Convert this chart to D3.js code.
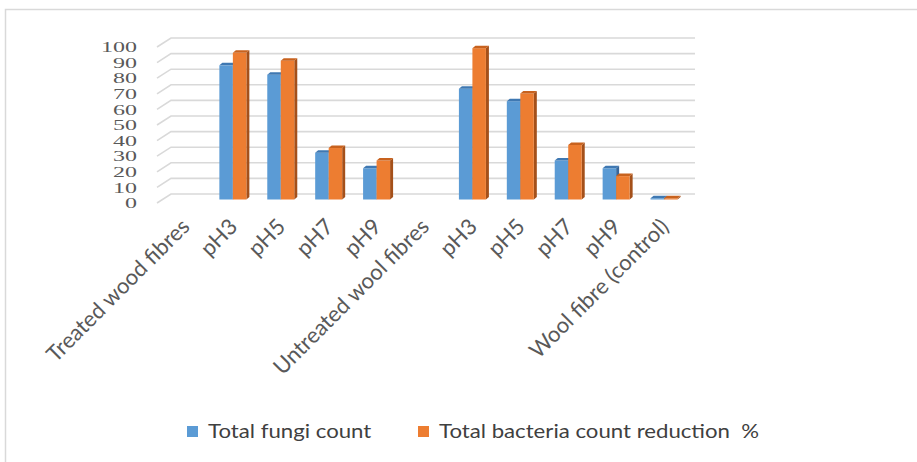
<!DOCTYPE html>
<html>
<head>
<meta charset="utf-8">
<script src="https://cdn.jsdelivr.net/npm/d3@7"></script>
<style>
  html, body { margin: 0; padding: 0; background: #fff; }
  svg { display: block; }
</style>
</head>
<body>
<svg id="chart" width="917" height="462"></svg>
<script>
// Category labels along the x axis (group headers carry no bars)
const categories = ["Treated wood fibres", "pH3", "pH5", "pH7", "pH9",
  "Untreated wool fibres", "pH3", "pH5", "pH7", "pH9", "Wool fibre (control)"];
// Series values (null = no bar)
const fungiCount = [null, 86, 80, 30, 20, null, 71, 63, 25, 20, 0.8];
const bacteriaReduction = [null, 94, 89, 33, 25, null, 97, 68, 35, 15, 0.8];
const seriesNames = ["Total fungi count", "Total bacteria count reduction  %"];
const yTickValues = [0, 10, 20, 30, 40, 50, 60, 70, 80, 90, 100];

const colors = {
  blue:   { front: "#5B9BD5", top: "#3F78B2", side: "#37669A" },
  orange: { front: "#ED7D31", top: "#C8621E", side: "#A4501A" }
};

const svg = d3.select("#chart");

// Outer chart frame
svg.append("rect")
  .attr("x", 5.5).attr("y", 9.5).attr("width", 930).attr("height", 460)
  .attr("fill", "none").attr("stroke", "#d9d9d9").attr("stroke-width", 1.5);

// Scales
const x = d3.scaleBand().domain(d3.range(categories.length)).range([161, 688]);
const yFront = d3.scaleLinear().domain([0, 100]).range([203, 47]);   // front edge of floor/wall
const yBar = d3.scaleLinear().domain([0, 100]).range([199.5, 43.5]); // bar front face
const wallDX = 14, wallDY = -9;   // depth of the 3-D floor
const lidDX = 3, lidDY = -2.5;    // depth of each column
const barW = 13.5;

// Gridlines: short diagonal on the side wall, then horizontal along the back wall
const grid = svg.append("g").attr("fill", "none").attr("stroke", "#d9d9d9").attr("stroke-width", 1.6);
yTickValues.forEach(t => {
  const y0 = yFront(t);
  grid.append("path").attr("d", d3.line()([[157, y0], [157 + wallDX, y0 + wallDY], [695, y0 + wallDY]]));
});

// Y axis tick labels (condensed serif figures)
const yAxis = svg.append("g").attr("fill", "#595959")
  .style("font-family", "'Liberation Serif', 'DejaVu Serif', serif").style("font-size", "15px");
yTickValues.forEach(t => {
  yAxis.append("text")
    .attr("transform", `translate(137,${yFront(t)}) scale(1.6,1)`)
    .attr("text-anchor", "end").attr("dy", "0.35em")
    .text(t);
});

// 3-D columns
function drawColumn(g, x0, v, c) {
  const yt = yBar(v), yb = yBar(0);
  const x1 = x0 + barW;
  // side face
  g.append("path").attr("fill", c.side)
    .attr("d", d3.line()([[x1, yb], [x1 + lidDX, yb + lidDY], [x1 + lidDX, yt + lidDY], [x1, yt]]) + "Z");
  // front face
  g.append("rect").attr("x", x0).attr("y", yt).attr("width", barW).attr("height", Math.max(yb - yt, 0.5))
    .attr("fill", c.front);
  // top face
  g.append("path").attr("fill", c.top)
    .attr("d", d3.line()([[x0, yt], [x0 + lidDX, yt + lidDY], [x1 + lidDX, yt + lidDY], [x1, yt]]) + "Z");
}

const bars = svg.append("g");
categories.forEach((cat, i) => {
  const cx = x(i) + x.bandwidth() / 2;
  if (fungiCount[i] != null) drawColumn(bars.append("g"), cx - barW, fungiCount[i], colors.blue);
  if (bacteriaReduction[i] != null) drawColumn(bars.append("g"), cx, bacteriaReduction[i], colors.orange);
});

// Rotated category labels
const xLabels = svg.append("g").attr("fill", "#595959")
  .style("font-family", "Lato, 'Open Sans', sans-serif").style("font-size", "22px");
categories.forEach((cat, i) => {
  const cx = x(i) + x.bandwidth() / 2;
  xLabels.append("text")
    .attr("transform", `translate(${cx + 6},${228}) rotate(-45)`)
    .attr("text-anchor", "end")
    .text(cat);
});

// Legend
const legend = svg.append("g")
  .style("font-family", "Lato, 'Open Sans', sans-serif").style("font-size", "18.5px").attr("fill", "#404040");
const legendItems = [
  { name: seriesNames[0], color: colors.blue.front, x: 187 },
  { name: seriesNames[1], color: colors.orange.front, x: 418 }
];
legendItems.forEach(d => {
  legend.append("rect").attr("x", d.x).attr("y", 426).attr("width", 11).attr("height", 11).attr("fill", d.color);
  legend.append("text")
    .attr("transform", `translate(${d.x + 21},438) scale(1.2,1)`)
    .style("white-space", "pre").attr("xml:space", "preserve").text(d.name);
});
</script>
</body>
</html>
